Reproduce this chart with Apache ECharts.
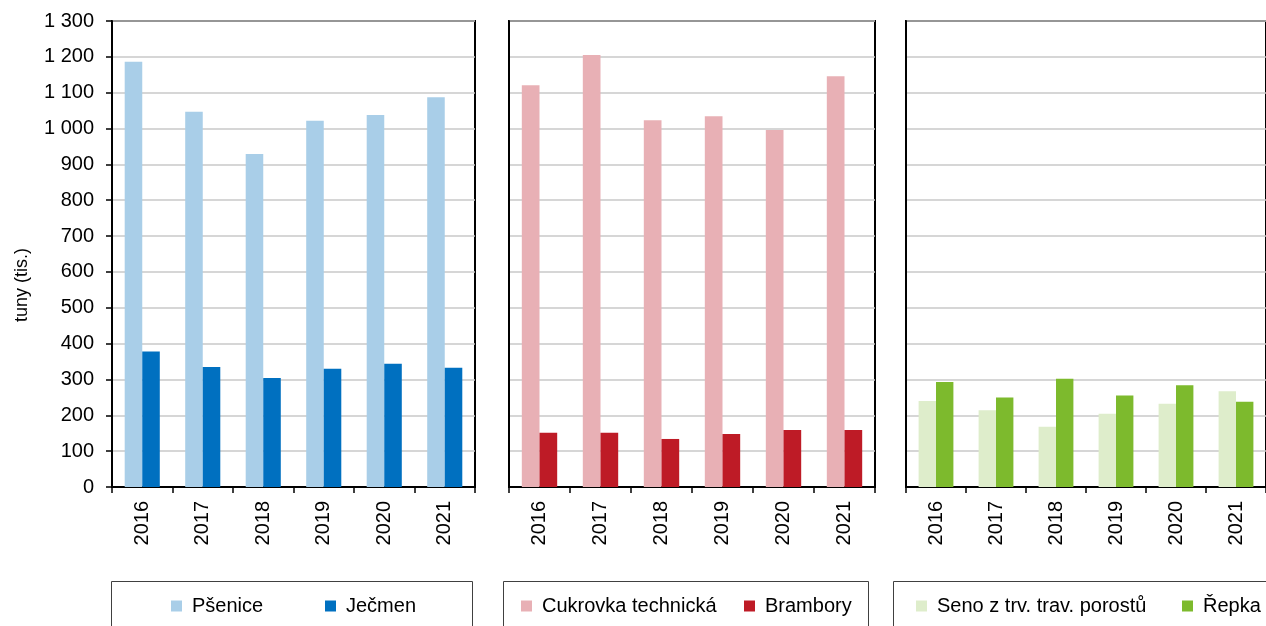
<!DOCTYPE html>
<html>
<head>
<meta charset="utf-8">
<script src="https://cdn.jsdelivr.net/npm/echarts@6/dist/echarts.min.js"></script>
<style>
html,body{margin:0;padding:0;background:#fff;}
#chart{width:1266px;height:626px;}
</style>
</head>
<body>
<div id="chart"></div>
<script>
const categories = ['2016', '2017', '2018', '2019', '2020', '2021'];
const psenice = [1186, 1047, 929, 1022, 1038, 1087];
const jecmen = [378, 335, 304, 330, 344, 333];
const cukrovka = [1121, 1205, 1023, 1034, 996, 1146];
const brambory = [151, 151, 134, 148, 159, 159];
const seno = [240, 214, 168, 204, 232, 267];
const repka = [293, 250, 302, 255, 284, 238];
const seriesNames = ['Pšenice', 'Ječmen', 'Cukrovka technická', 'Brambory', 'Seno z trv. trav. porostů', 'Řepka'];
const yAxisTitle = 'tuny (tis.)';

const FONT = 'Liberation Sans, Arial, sans-serif';
const colors = ['#A9CEE8', '#0070C0', '#E8B0B5', '#BE1B26', '#DEEDCB', '#7DBA2D'];

const grids = [
  {left: 112, top: 21, width: 363, height: 466},
  {left: 509, top: 21, width: 366, height: 466},
  {left: 906, top: 21, width: 362, height: 466}
].map(g => Object.assign(g, {show: true, borderColor: '#000', borderWidth: 2, containLabel: false}));

function fmt(v) {
  return String(v).replace(/\B(?=(\d{3})+(?!\d))/g, ' ');
}

const xAxes = [0, 1, 2].map(i => ({
  type: 'category', gridIndex: i, data: categories,
  axisLine: {lineStyle: {color: '#000', width: 2}},
  axisTick: {show: true, length: 6, lineStyle: {color: '#000', width: 1.5}},
  axisLabel: {rotate: 90, fontSize: 20, color: '#000', fontFamily: FONT, margin: 14}
}));

const yAxes = [0, 1, 2].map(i => ({
  type: 'value', gridIndex: i, min: 0, max: 1300, interval: 100,
  axisLine: {show: true, lineStyle: {color: '#000', width: 2}},
  axisTick: {show: i === 0, length: 6, lineStyle: {color: '#000', width: 1.5}},
  axisLabel: {show: i === 0, fontSize: 20, color: '#000', fontFamily: FONT, margin: 18, formatter: fmt},
  splitLine: {show: true, lineStyle: {color: '#C8C8C8', width: 1.5}}
}));

const dataSets = [psenice, jecmen, cukrovka, brambory, seno, repka];
const series = dataSets.map((d, k) => ({
  type: 'bar', name: seriesNames[k],
  xAxisIndex: Math.floor(k / 2), yAxisIndex: Math.floor(k / 2),
  data: d, barGap: '0%', barCategoryGap: '42%',
  itemStyle: {color: colors[k]}
}));

const legendLefts = [171, 325, 521, 744, 916, 1182];
const legends = seriesNames.map((n, k) => ({
  data: [n], left: legendLefts[k], top: 596, orient: 'horizontal',
  itemWidth: 11, itemHeight: 11, icon: 'rect', selectedMode: false, padding: 0,
  textStyle: {fontSize: 20, color: '#000', fontFamily: FONT, padding: [0, 0, 0, 5]}
}));

const boxes = [
  {x: 111, w: 361}, {x: 503, w: 365}, {x: 893, w: 380}
].map(b => ({
  type: 'rect', shape: {x: b.x + 0.5, y: 581.5, width: b.w, height: 60},
  style: {fill: 'none', stroke: '#404040', lineWidth: 1}, silent: true
}));

const option = {
  backgroundColor: '#fff',
  animation: false,
  grid: grids,
  xAxis: xAxes,
  yAxis: yAxes,
  legend: legends,
  series: series,
  graphic: boxes.concat([{
    type: 'text', x: 22, y: 285, rotation: Math.PI / 2,
    style: {text: yAxisTitle, fontSize: 18, fontFamily: FONT, fill: '#000', align: 'center', verticalAlign: 'middle'}
  }])
};

const chart = echarts.init(document.getElementById('chart'), null, {renderer: 'canvas'});
chart.setOption(option);
</script>
</body>
</html>
